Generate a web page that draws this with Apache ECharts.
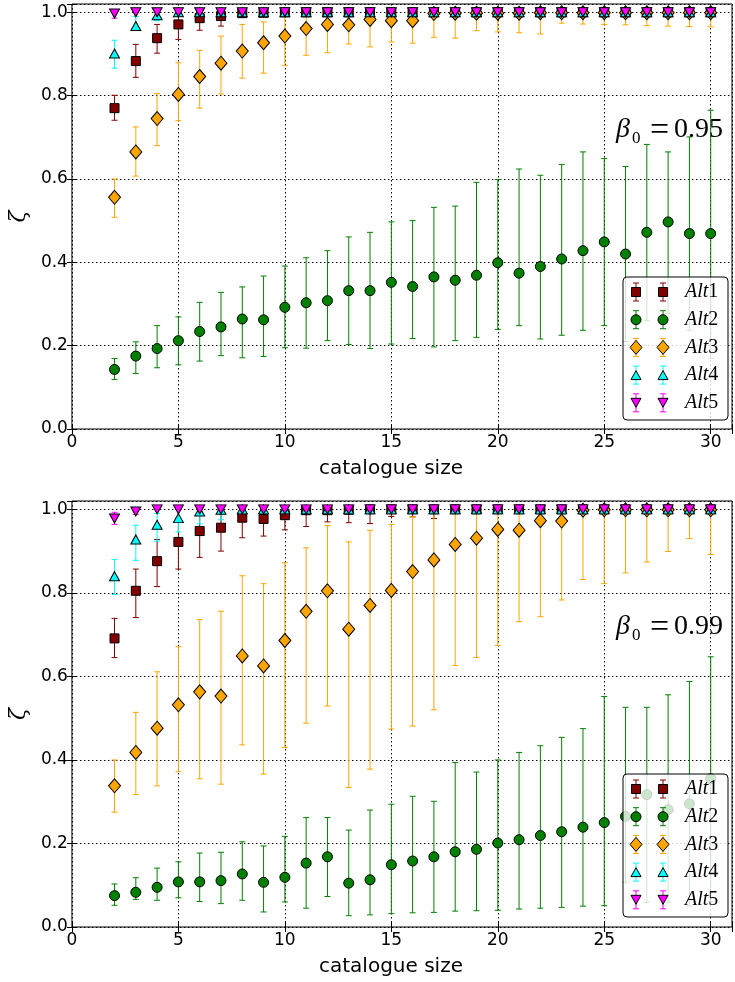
<!DOCTYPE html>
<html>
<head>
<meta charset="utf-8">
<script src="https://cdn.jsdelivr.net/npm/echarts@6/dist/echarts.min.js"></script>
<style>
  html, body { margin: 0; padding: 0; background: #fff; }
  #chart { width: 735px; height: 982px; }
</style>
</head>
<body>
<div id="chart"></div>
<script>
// catalogue sizes on the x axis
const sizes = [2,3,4,5,6,7,8,9,10,11,12,13,14,15,16,17,18,19,20,21,22,23,24,25,26,27,28,29,30];

const xTicks = [0, 5, 10, 15, 20, 25, 30];
const yTicks = [0.0, 0.2, 0.4, 0.6, 0.8, 1.0];

// ---- beta_0 = 0.95 ----
const alt1_95    = [0.770,0.883,0.938,0.971,0.986,0.991,0.998,0.999,1,1,1,1,1,1,1,1,1,1,1,1,1,1,1,1,1,1,1,1,1];
const alt1_95_lo = [0.741,0.844,0.902,0.935,0.957,0.967,0.990,0.995,0.998,1,1,1,1,1,1,1,1,1,1,1,1,1,1,1,1,1,1,1,1];
const alt1_95_hi = [0.801,0.923,0.971,1,1,1,1,1,1,1,1,1,1,1,1,1,1,1,1,1,1,1,1,1,1,1,1,1,1];

const alt2_95    = [0.143,0.175,0.193,0.212,0.234,0.245,0.264,0.262,0.292,0.303,0.308,0.332,0.332,0.352,0.342,0.365,0.357,0.369,0.399,0.374,0.390,0.408,0.428,0.449,0.420,0.472,0.497,0.469,0.469];
const alt2_95_lo = [0.119,0.133,0.147,0.154,0.163,0.176,0.171,0.174,0.195,0.194,0.212,0.203,0.193,0.204,0.217,0.197,0.212,0.220,0.239,0.248,0.216,0.225,0.237,0.248,0.210,0.260,0.277,0.237,0.170];
const alt2_95_hi = [0.169,0.209,0.248,0.269,0.304,0.328,0.341,0.367,0.391,0.411,0.428,0.461,0.472,0.497,0.500,0.532,0.535,0.592,0.599,0.624,0.609,0.635,0.665,0.649,0.630,0.683,0.665,0.701,0.765];

const alt3_95    = [0.556,0.665,0.745,0.803,0.846,0.878,0.907,0.927,0.943,0.961,0.971,0.970,0.983,0.980,0.980,0.997,0.998,0.998,0.998,0.998,0.999,0.999,0.999,0.999,0.999,0.999,0.999,0.999,0.999];
const alt3_95_lo = [0.508,0.607,0.680,0.740,0.770,0.804,0.842,0.854,0.872,0.897,0.903,0.924,0.917,0.929,0.926,0.940,0.938,0.956,0.953,0.951,0.948,0.974,0.972,0.971,0.970,0.968,0.967,0.966,0.965];
const alt3_95_hi = [0.600,0.725,0.805,0.879,0.909,0.943,0.971,0.977,0.995,1,1,1,1,1,1,1,1,1,1,1,1,1,1,1,1,1,1,1,1];

const alt4_95    = [0.901,0.967,0.993,1,1,1,1,1,1,1,1,1,1,1,1,1,1,1,1,1,1,1,1,1,1,1,1,1,1];
const alt4_95_lo = [0.866,0.957,0.980,0.990,1,1,1,1,1,1,1,1,1,1,1,1,1,1,1,1,1,1,1,1,1,1,1,1,1];
const alt4_95_hi = [0.933,0.990,1,1,1,1,1,1,1,1,1,1,1,1,1,1,1,1,1,1,1,1,1,1,1,1,1,1,1];

const alt5_95    = [0.997,1,1,1,1,1,1,1,1,1,1,1,1,1,1,1,1,1,1,1,1,1,1,1,1,1,1,1,1];
const alt5_95_lo = [0.986,1,1,1,1,1,1,1,1,1,1,1,1,1,1,1,1,1,1,1,1,1,1,1,1,1,1,1,1];
const alt5_95_hi = [1,1,1,1,1,1,1,1,1,1,1,1,1,1,1,1,1,1,1,1,1,1,1,1,1,1,1,1,1];

// ---- beta_0 = 0.99 ----
const alt1_99    = [0.691,0.805,0.876,0.922,0.948,0.956,0.980,0.977,0.986,0.998,0.998,0.999,1,1,1,1,1,1,1,1,1,1,1,1,1,1,1,1,1];
const alt1_99_lo = [0.645,0.741,0.815,0.857,0.885,0.900,0.932,0.936,0.951,0.959,0.970,0.968,0.966,0.983,0.982,0.978,0.995,0.995,0.995,0.995,0.995,0.995,0.995,0.995,0.995,0.995,0.995,0.995,0.995];
const alt1_99_hi = [0.739,0.857,0.928,0.975,0.990,1,1,1,1,1,1,1,1,1,1,1,1,1,1,1,1,1,1,1,1,1,1,1,1];

const alt2_99    = [0.075,0.083,0.095,0.108,0.108,0.111,0.127,0.107,0.119,0.153,0.168,0.105,0.113,0.149,0.158,0.168,0.180,0.186,0.201,0.209,0.219,0.228,0.239,0.250,0.265,0.317,0.281,0.295,0.355];
const alt2_99_lo = [0.052,0.066,0.064,0.070,0.061,0.056,0.064,0.036,0.060,0.045,0.073,0.027,0.029,0.032,0.034,0.035,0.038,0.039,0.040,0.043,0.045,0.047,0.050,0.051,0.107,0.059,0.059,0.050,0.060];
const alt2_99_hi = [0.103,0.118,0.141,0.156,0.177,0.179,0.204,0.194,0.217,0.262,0.262,0.232,0.280,0.294,0.313,0.301,0.394,0.371,0.400,0.418,0.434,0.454,0.475,0.552,0.526,0.526,0.556,0.588,0.647];

const alt3_99    = [0.338,0.418,0.476,0.532,0.563,0.553,0.649,0.625,0.686,0.756,0.805,0.713,0.770,0.806,0.851,0.879,0.916,0.931,0.952,0.950,0.973,0.972,0.998,0.999,0.999,0.999,0.999,0.999,0.999];
const alt3_99_lo = [0.275,0.317,0.338,0.372,0.355,0.342,0.436,0.366,0.430,0.488,0.529,0.334,0.378,0.474,0.481,0.520,0.626,0.645,0.674,0.731,0.743,0.783,0.832,0.822,0.848,0.874,0.899,0.930,0.892];
const alt3_99_hi = [0.400,0.514,0.611,0.671,0.736,0.756,0.841,0.822,0.872,0.908,0.961,0.922,0.950,0.964,0.982,1,1,1,1,1,1,1,1,1,1,1,1,1,1];

const alt4_99    = [0.840,0.928,0.963,0.979,0.995,0.999,1,1,1,1,1,1,1,1,1,1,1,1,1,1,1,1,1,1,1,1,1,1,1];
const alt4_99_lo = [0.796,0.878,0.924,0.946,0.965,0.975,0.990,0.990,0.993,0.998,0.998,0.998,0.998,0.998,0.998,0.998,0.998,0.998,0.998,0.998,0.998,0.998,0.998,0.998,0.998,0.998,0.998,0.998,0.998];
const alt4_99_hi = [0.880,0.962,0.990,1,1,1,1,1,1,1,1,1,1,1,1,1,1,1,1,1,1,1,1,1,1,1,1,1,1];

const alt5_99    = [0.978,0.995,1,1,1,1,1,1,1,1,1,1,1,1,1,1,1,1,1,1,1,1,1,1,1,1,1,1,1];
const alt5_99_lo = [0.964,0.988,1,1,1,1,1,1,1,1,1,1,1,1,1,1,1,1,1,1,1,1,1,1,1,1,1,1,1];
const alt5_99_hi = [0.993,1,1,1,1,1,1,1,1,1,1,1,1,1,1,1,1,1,1,1,1,1,1,1,1,1,1,1,1];

const seriesNames = ['Alt1', 'Alt2', 'Alt3', 'Alt4', 'Alt5'];
const panelLabels = ['0.95', '0.99'];

// marker look per alternative
const STYLE = [
  { color: '#800000', symbol: 'rect',     size: 9,        rotate: 0 },
  { color: '#008000', symbol: 'circle',   size: 10,       rotate: 0 },
  { color: '#FFA500', symbol: 'diamond',  size: [12, 14], rotate: 0 },
  { color: '#00FFFF', symbol: 'triangle', size: [10, 9],  rotate: 0 },
  { color: '#FF00FF', symbol: 'triangle', size: [10, 9],  rotate: 180 }
];

const panels = [
  [[alt1_95, alt1_95_lo, alt1_95_hi], [alt2_95, alt2_95_lo, alt2_95_hi], [alt3_95, alt3_95_lo, alt3_95_hi],
   [alt4_95, alt4_95_lo, alt4_95_hi], [alt5_95, alt5_95_lo, alt5_95_hi]],
  [[alt1_99, alt1_99_lo, alt1_99_hi], [alt2_99, alt2_99_lo, alt2_99_hi], [alt3_99, alt3_99_lo, alt3_99_hi],
   [alt4_99, alt4_99_lo, alt4_99_hi], [alt5_99, alt5_99_lo, alt5_99_hi]]
];

// panel frames
const GRIDS = [
  { left: 70, top: 4,   width: 667, height: 425 },
  { left: 70, top: 501, width: 667, height: 426 }
];

const TICK_FONT = 'DejaVu Sans';
const CAP = 3;

function errorBarRenderer(color) {
  return function (params, api) {
    const x = api.value(0);
    const lo = api.coord([x, api.value(1)]);
    const hi = api.coord([x, api.value(2)]);
    const st = { stroke: color, lineWidth: 1 };
    return {
      type: 'group',
      children: [
        { type: 'line', shape: { x1: lo[0], y1: lo[1], x2: hi[0], y2: hi[1] }, style: st },
        { type: 'line', shape: { x1: lo[0] - CAP, y1: lo[1], x2: lo[0] + CAP, y2: lo[1] }, style: st },
        { type: 'line', shape: { x1: hi[0] - CAP, y1: hi[1], x2: hi[0] + CAP, y2: hi[1] }, style: st }
      ]
    };
  };
}

const xAxes = [], yAxes = [], series = [], graphics = [];

const xLabelFmt = v => (xTicks.indexOf(v) >= 0 ? String(v) : '');
const yLabelFmt = v => (yTicks.some(t => Math.abs(t - v) < 1e-6) ? v.toFixed(1) : '');

GRIDS.forEach((g, p) => {
  xAxes[p] = {
    type: 'value', gridIndex: p, min: 0, max: 31, interval: 5, position: 'bottom',
    axisLine: { show: false },
    axisTick: { show: true, inside: true, length: 5, lineStyle: { color: '#000' } },
    axisLabel: { formatter: xLabelFmt, color: '#000', fontFamily: TICK_FONT, fontSize: 17, margin: 5 },
    splitLine: { show: true, lineStyle: { color: '#000', type: [1.5, 2.5], width: 1 } }
  };
  xAxes[p + 2] = {
    type: 'value', gridIndex: p, min: 0, max: 31, interval: 5, position: 'top',
    axisLine: { show: false },
    axisTick: { show: true, inside: true, length: 5, lineStyle: { color: '#000' } },
    axisLabel: { show: false }, splitLine: { show: false }
  };
  yAxes[p] = {
    type: 'value', gridIndex: p, min: 0, max: 1.02, interval: 0.2, position: 'left',
    name: 'ζ', nameLocation: 'middle', nameRotate: 90, nameGap: 38,
    nameTextStyle: { fontFamily: 'DejaVu Serif', fontStyle: 'italic', fontSize: 22, color: '#000' },
    axisLine: { show: false },
    axisTick: { show: true, inside: true, length: 5, lineStyle: { color: '#000' } },
    axisLabel: { formatter: yLabelFmt, color: '#000', fontFamily: TICK_FONT, fontSize: 17, margin: 4 },
    splitLine: { show: true, lineStyle: { color: '#000', type: [1.5, 2.5], width: 1 } }
  };
  yAxes[p + 2] = {
    type: 'value', gridIndex: p, min: 0, max: 1.02, interval: 0.2, position: 'right',
    axisLine: { show: false },
    axisTick: { show: true, inside: true, length: 5, lineStyle: { color: '#000' } },
    axisLabel: { show: false }, splitLine: { show: false }
  };

  panels[p].forEach((trio, k) => {
    const [val, lo, hi] = trio;
    const s = STYLE[k];
    series.push({
      type: 'custom', name: seriesNames[k], xAxisIndex: p, yAxisIndex: p, z: 2 + 2 * k,
      silent: true, animation: false,
      renderItem: errorBarRenderer(s.color),
      encode: { x: 0, y: [1, 2] },
      data: sizes.map((x, i) => [x, lo[i], hi[i]])
    });
    series.push({
      type: 'scatter', name: seriesNames[k], xAxisIndex: p, yAxisIndex: p, z: 3 + 2 * k,
      silent: true, animation: false,
      symbol: s.symbol, symbolSize: s.size, symbolRotate: s.rotate,
      itemStyle: { color: s.color, borderColor: '#000', borderWidth: 1, opacity: 1 },
      emphasis: { disabled: true },
      data: sizes.map((x, i) => [x, val[i]])
    });
  });

  const bottom = g.top + g.height;

  // x axis title
  graphics.push({
    type: 'text', x: 391, y: bottom + 40, z: 100,
    style: { text: 'catalogue size', font: '20px "DejaVu Sans"', fill: '#000', align: 'center', verticalAlign: 'middle' }
  });

  // beta_0 annotation
  const by = g.top + 126;
  graphics.push({ type: 'text', x: 616, y: by, z: 100,
    style: { text: 'β', font: 'italic 28px "Liberation Serif"', fill: '#000', align: 'left', verticalAlign: 'middle' } });
  graphics.push({ type: 'text', x: 632, y: by + 9, z: 100,
    style: { text: '0', font: '17px "Liberation Serif"', fill: '#000', align: 'left', verticalAlign: 'middle' } });
  graphics.push({ type: 'text', x: 650, y: by + 1, z: 100,
    style: { text: '=', font: '34px "Liberation Serif"', fill: '#000', align: 'left', verticalAlign: 'middle' } });
  graphics.push({ type: 'text', x: 674, y: by, z: 100,
    style: { text: panelLabels[p], font: '28px "Liberation Serif"', fill: '#000', align: 'left', verticalAlign: 'middle' } });

  // legend box
  const lx = 623, ly = g.top + 273, lw = 105, lh = 143;
  graphics.push({
    type: 'rect', z: 100, shape: { x: lx, y: ly, width: lw, height: lh, r: 4 },
    style: { fill: 'rgba(255,255,255,0.8)', stroke: '#000', lineWidth: 1 }
  });
  seriesNames.forEach((nm, k) => {
    const s = STYLE[k];
    const ry = ly + 15 + k * 27.7;
    [636, 663].forEach(cx => {
      const st = { stroke: s.color, lineWidth: 1 };
      graphics.push({ type: 'line', z: 101, shape: { x1: cx, y1: ry - 9, x2: cx, y2: ry + 9 }, style: st });
      graphics.push({ type: 'line', z: 101, shape: { x1: cx - CAP, y1: ry - 9, x2: cx + CAP, y2: ry - 9 }, style: st });
      graphics.push({ type: 'line', z: 101, shape: { x1: cx - CAP, y1: ry + 9, x2: cx + CAP, y2: ry + 9 }, style: st });
      const ms = { fill: s.color, stroke: '#000', lineWidth: 1 };
      let m;
      if (k === 0) m = { type: 'rect', shape: { x: cx - 4.5, y: ry - 4.5, width: 9, height: 9 } };
      else if (k === 1) m = { type: 'circle', shape: { cx: cx, cy: ry, r: 5 } };
      else if (k === 2) m = { type: 'polygon', shape: { points: [[cx, ry - 7], [cx + 6, ry], [cx, ry + 7], [cx - 6, ry]] } };
      else if (k === 3) m = { type: 'polygon', shape: { points: [[cx, ry - 4.5], [cx + 5, ry + 4.5], [cx - 5, ry + 4.5]] } };
      else m = { type: 'polygon', shape: { points: [[cx, ry + 4.5], [cx + 5, ry - 4.5], [cx - 5, ry - 4.5]] } };
      m.z = 102; m.style = ms;
      graphics.push(m);
    });
    graphics.push({
      type: 'text', x: 685, y: ry, z: 102,
      style: {
        text: '{i|Alt}{n|' + nm.slice(3) + '}',
        rich: {
          i: { font: 'italic 20px "Liberation Serif"', fill: '#000' },
          n: { font: '20px "Liberation Serif"', fill: '#000' }
        },
        align: 'left', verticalAlign: 'middle'
      }
    });
  });
});

const chart = echarts.init(document.getElementById('chart'), null, { renderer: 'canvas' });
chart.setOption({
  animation: false,
  backgroundColor: '#fff',
  grid: GRIDS.map(g => Object.assign({ show: true, borderColor: '#000', borderWidth: 1, backgroundColor: 'transparent' }, g)),
  xAxis: xAxes,
  yAxis: yAxes,
  series: series,
  graphic: { elements: graphics }
});
</script>
</body>
</html>
